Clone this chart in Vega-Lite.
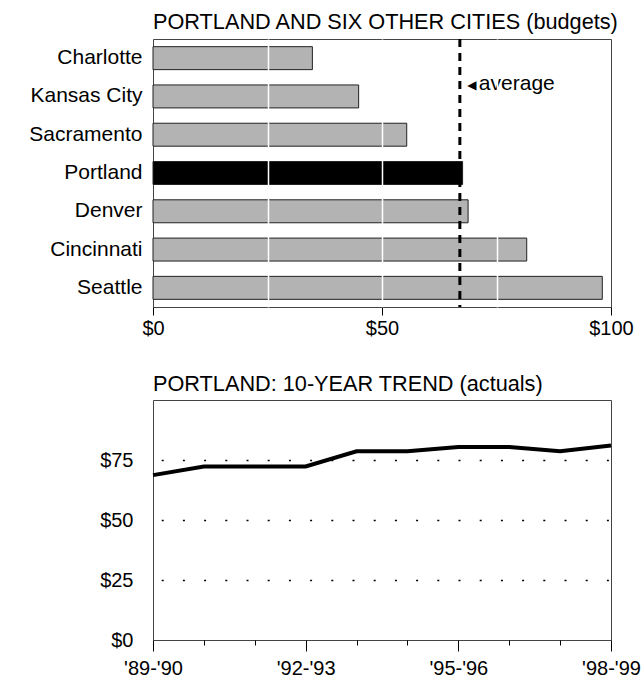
{
  "$schema": "https://vega.github.io/schema/vega-lite/v6.json",
  "padding": {"left": 28, "top": 11, "right": 0, "bottom": 0},
  "background": "#ffffff",
  "spacing": 34,
  "config": {
    "font": "Liberation Sans",
    "view": {"stroke": "#444444", "strokeWidth": 1},
    "axis": {"labelFont": "Liberation Sans", "labelFontSize": 20, "labelColor": "#000000", "domain": false, "title": null},
    "title": {"font": "Liberation Sans", "fontSize": 21.7, "fontWeight": "normal", "color": "#000000", "anchor": "start", "frame": "group", "offset": 4}
  },
  "vconcat": [
    {
      "title": "PORTLAND AND SIX OTHER CITIES (budgets)",
      "width": 458,
      "height": 268,
      "layer": [
        {
          "data": {"values": [
            {"city": "Charlotte", "budget": 34.8},
            {"city": "Kansas City", "budget": 44.9},
            {"city": "Sacramento", "budget": 55.4},
            {"city": "Portland", "budget": 67.6},
            {"city": "Denver", "budget": 68.8},
            {"city": "Cincinnati", "budget": 81.6},
            {"city": "Seattle", "budget": 98.1}
          ]},
          "mark": {"type": "bar", "stroke": "#222222", "strokeWidth": 1},
          "encoding": {
            "y": {"field": "city", "type": "nominal",
              "scale": {"domain": ["Charlotte", "Kansas City", "Sacramento", "Portland", "Denver", "Cincinnati", "Seattle"], "paddingInner": 0.4, "paddingOuter": 0.2},
              "axis": {"ticks": false, "labelPadding": 11, "labelFontSize": 21, "grid": false}},
            "x": {"field": "budget", "type": "quantitative", "scale": {"domain": [0, 100]},
              "axis": {
                "values": [0, 25, 50, 75, 100],
                "labelExpr": "datum.value % 50 === 0 ? '$' + datum.value : ''",
                "labelFlush": false,
                "labelPadding": 3,
                "tickSize": 8,
                "tickColor": "#000000",
                "tickOpacity": {"condition": {"test": "datum.value % 50 === 0", "value": 1}, "value": 0},
                "grid": true,
                "gridColor": "#ffffff",
                "gridWidth": 1.5,
                "gridOpacity": {"condition": {"test": "datum.value > 0 && datum.value < 100", "value": 1}, "value": 0},
                "zindex": 1
              }},
            "color": {"condition": {"test": "datum.city === 'Portland'", "value": "#000000"}, "value": "#b3b3b3"}
          }
        },
        {
          "data": {"values": [{"label": "average", "budget": 67.0, "city": "Kansas City"}]},
          "layer": [
            {
              "mark": {"type": "rule", "color": "#000000", "strokeWidth": 3, "strokeDash": [8, 6]},
              "encoding": {"x": {"field": "budget", "type": "quantitative"}}
            },
            {
              "mark": {"type": "text", "text": "◀", "font": "DejaVu Sans", "fontSize": 12, "color": "#000000", "dx": 12, "dy": -11, "align": "center", "baseline": "middle"},
              "encoding": {"x": {"field": "budget", "type": "quantitative"}, "y": {"field": "city", "type": "nominal"}}
            },
            {
              "mark": {"type": "text", "fontSize": 21, "color": "#000000", "dx": 19, "dy": -12, "align": "left", "baseline": "middle"},
              "encoding": {"x": {"field": "budget", "type": "quantitative"}, "y": {"field": "city", "type": "nominal"}, "text": {"field": "label"}}
            }
          ]
        }
      ]
    },
    {
      "title": "PORTLAND: 10-YEAR TREND (actuals)",
      "width": 458,
      "height": 240,
      "data": {"values": [
        {"year": "'89-'90", "actual": 68.7},
        {"year": "'90-'91", "actual": 72.3},
        {"year": "'91-'92", "actual": 72.3},
        {"year": "'92-'93", "actual": 72.3},
        {"year": "'93-'94", "actual": 78.6},
        {"year": "'94-'95", "actual": 78.6},
        {"year": "'95-'96", "actual": 80.4},
        {"year": "'96-'97", "actual": 80.4},
        {"year": "'97-'98", "actual": 78.6},
        {"year": "'98-'99", "actual": 81.0}
      ]},
      "mark": {"type": "line", "color": "#000000", "strokeWidth": 4},
      "encoding": {
        "x": {"field": "year", "type": "ordinal", "sort": null,
          "scale": {"type": "point", "padding": 0},
          "axis": {
            "labelAngle": 0,
            "labelOverlap": false,
            "labelExpr": "indexof(['89','92','95','98'], substring(datum.value, 1, 3)) >= 0 ? datum.label : ''",
            "tickColor": "#000000",
            "tickSize": {"condition": {"test": "indexof(['89','92','95','98'], substring(datum.value, 1, 3)) >= 0", "value": 11}, "value": 5},
            "labelPadding": 7,
            "grid": false
          }},
        "y": {"field": "actual", "type": "quantitative", "scale": {"domain": [0, 100]},
          "axis": {
            "values": [0, 25, 50, 75],
            "labelExpr": "'$' + datum.value",
            "ticks": false,
            "labelPadding": 20,
            "grid": true,
            "gridColor": "#000000",
            "gridWidth": 1.5,
            "gridDash": [2, 19.2],
            "gridDashOffset": 13,
            "gridOpacity": {"condition": {"test": "datum.value > 0", "value": 1}, "value": 0}
          }}
      }
    }
  ]
}
